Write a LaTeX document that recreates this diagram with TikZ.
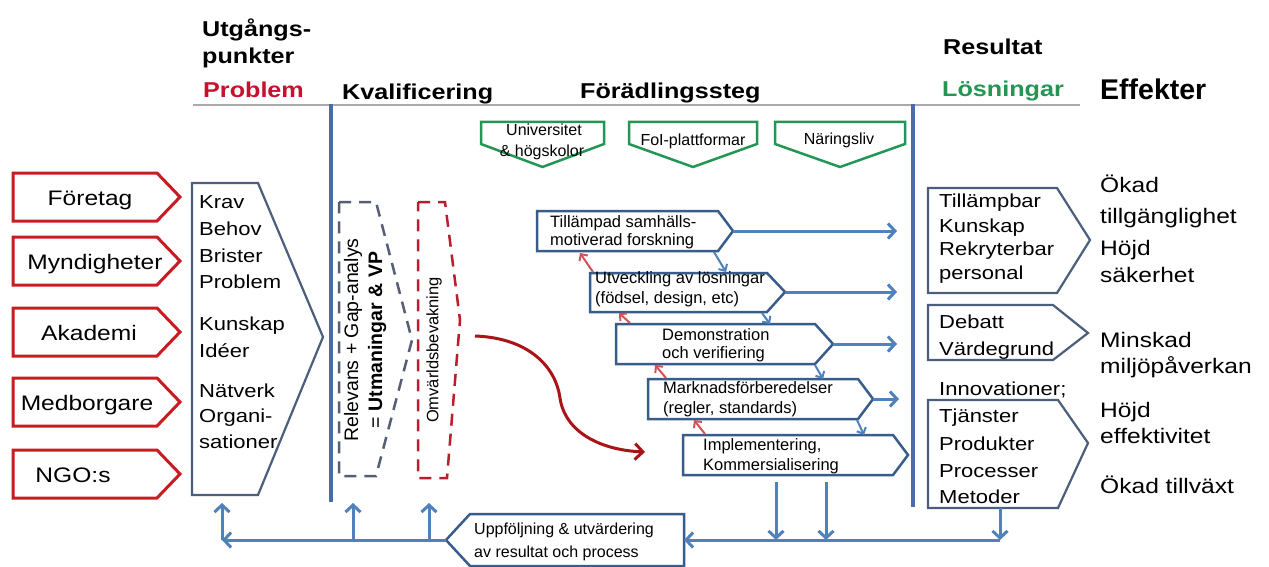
\documentclass[tikz,border=0pt]{standalone}
\usepackage{fontspec}
\setmainfont{Liberation Sans}[FakeStretch=1.17]
\newfontfamily\plainsans{Liberation Sans}
\usetikzlibrary{arrows.meta}
\newcommand\fsz[2]{\fontsize{#1}{#2}\selectfont}

\definecolor{cRed}{RGB}{200,28,34}
\definecolor{cProb}{RGB}{200,16,46}
\definecolor{cGreen}{RGB}{35,150,85}
\definecolor{cDivider}{RGB}{72,110,170}
\definecolor{cArrow}{RGB}{79,129,189}
\definecolor{cOutline}{RGB}{56,93,138}
\definecolor{cSlate}{RGB}{75,95,125}
\definecolor{cRule}{RGB}{170,170,170}
\definecolor{cDashB}{RGB}{85,95,115}
\definecolor{cDashR}{RGB}{185,30,45}
\definecolor{cCurve}{RGB}{170,20,25}
\definecolor{cBack}{RGB}{205,85,85}

\begin{document}
\begin{tikzpicture}[x=1pt,y=-1pt,line join=miter,
  hdr/.style={font=\fsz{21.5}{26}\bfseries, anchor=base west, inner sep=0pt},
  srcbox/.style={draw=cRed, line width=3pt, fill=white},
  srctxt/.style={font=\fsz{21}{25}, anchor=base, inner sep=0pt},
  slatebox/.style={draw=cSlate, line width=2.2pt, fill=white},
  listtxt/.style={font=\fsz{18.8}{22}, anchor=base west, inner sep=0pt},
  efftxt/.style={font=\fsz{21}{25}, anchor=base west, inner sep=0pt},
  greenbox/.style={draw=cGreen, line width=2.5pt, fill=white},
  greentxt/.style={font=\plainsans\fsz{16}{19}, anchor=base, inner sep=0pt},
  stepbox/.style={draw=cOutline, line width=2.5pt, fill=white},
  steptxt/.style={font=\plainsans\fsz{16.5}{19}, anchor=base west, inner sep=0pt},
  rottxt/.style={rotate=90, align=center, inner sep=0pt},
  dashB/.style={draw=cDashB, line width=2.5pt, dash pattern=on 12pt off 8pt},
  dashR/.style={draw=cDashR, line width=2.5pt, dash pattern=on 12pt off 8pt},
  flow/.style={draw=cArrow, line width=3pt, -{Straight Barb[length=7pt,width=15pt]}},
  stepdown/.style={draw=cArrow, line width=2pt, -{Straight Barb[length=5pt,width=10pt]}},
  stepup/.style={draw=cBack, line width=2pt, -{Straight Barb[length=5pt,width=10pt]}},
  curvearrow/.style={draw=cCurve, line width=3pt, -{Straight Barb[length=8pt,width=16pt]}}
]
\useasboundingbox (0,0) rectangle (1269,567);
\fill[white] (0,0) rectangle (1269,567);

% ---- column headings ----
\node[hdr] (hUtg) at (202,37) {Utgångs-};
\node[hdr] (hPunk) at (202,64) {punkter};
\node[hdr, text=cProb] (hProb) at (203,98) {Problem};
\node[hdr] (hKval) at (342,100) {Kvalificering};
\node[hdr] (hForad) at (580,99) {Förädlingssteg};
\node[hdr] (hRes) at (943,55) {Resultat};
\node[hdr, text=cGreen] (hLos) at (942,97) {Lösningar};
\node[hdr, font=\plainsans\fsz{28.5}{32}\bfseries] (hEff) at (1100,100) {Effekter};

% ---- rule and column dividers ----
\draw[cRule, line width=2pt] (193,105) -- (1080,105);
\draw[cDivider, line width=3.5pt] (331,104) -- (331,502);
\draw[cDivider, line width=3.5pt] (913,104) -- (913,507);

% ---- sources ----
\foreach \t/\cx/\txt [count=\i] in {173/90/Företag, 237/95/Myndigheter, 308/89/Akademi, 378/87/Medborgare, 450/73/NGO:s} {
  \draw[srcbox] (13,\t) -- (157,\t) -- (180,\t+24) -- (157,\t+48) -- (13,\t+48) -- cycle;
  \node[srctxt] (src\i) at (\cx,\t+32) {\txt};
}

% ---- problem statement ----
\draw[slatebox] (192,183) -- (258,183) -- (323,337) -- (258,495) -- (192,495) -- cycle;
\foreach \y/\txt [count=\i] in {208/Krav, 235/Behov, 262/Brister, 288/Problem, 330/Kunskap, 357/Idéer, 397/Nätverk, 422/Organi-, 448/sationer} {
  \node[listtxt] (prob\i) at (199,\y) {\txt};
}

% ---- qualification ----
\draw[dashB] (339,202) -- (376,202) -- (412,340) -- (376,476) -- (339,476) -- cycle;
\node[rottxt, font=\plainsans\fsz{19.5}{24}] (kvTxt) at (365,340) {Relevans + Gap-analys\\= \textbf{Utmaningar \& VP}};
\draw[dashR] (418,202) -- (445,202) -- (460,320) -- (447,478) -- (418,478) -- cycle;
\node[rottxt, font=\plainsans\fsz{16.5}{20}] (omTxt) at (434,350) {Omvärldsbevakning};

% ---- actors ----
\foreach \l/\r [count=\i] in {481/604, 629/757, 775/905} {
  \draw[greenbox] (\l,122) -- (\r,122) -- (\r,144) -- ({(\l+\r)/2},167) -- (\l,144) -- cycle;
}
\node[greentxt] (actA1) at (544,136) {Universitet};
\node[greentxt] (actA2) at (542,157) {\& högskolor};
\node[greentxt] (actB) at (693,146) {FoI-plattformar};
\node[greentxt] (actC) at (839,145) {Näringsliv};

% ---- refinement steps ----
\draw[stepbox] (537,211) -- (718,211) -- (733,231) -- (718,251) -- (537,251) -- cycle;
\draw[stepbox] (590,273) -- (767,273) -- (785,292) -- (767,312) -- (590,312) -- cycle;
\draw[stepbox] (616,324) -- (815,324) -- (833,344) -- (815,364) -- (616,364) -- cycle;
\draw[stepbox] (648,379) -- (858,379) -- (873,399) -- (858,419) -- (648,419) -- cycle;
\draw[stepbox] (683,435) -- (893,435) -- (908,455) -- (893,475) -- (683,475) -- cycle;

\node[steptxt] (st1a) at (550,227) {Tillämpad samhälls-};
\node[steptxt] (st1b) at (550,245) {motiverad forskning};
\node[steptxt] (st2a) at (595,283) {Utveckling av lösningar};
\node[steptxt] (st2b) at (595,303) {(födsel, design, etc)};
\node[steptxt] (st3a) at (662,340) {Demonstration};
\node[steptxt] (st3b) at (662,358) {och verifiering};
\node[steptxt] (st4a) at (663,393) {Marknadsförberedelser};
\node[steptxt] (st4b) at (663,413) {(regler, standards)};
\node[steptxt] (st5a) at (703,450) {Implementering,};
\node[steptxt] (st5b) at (703,470) {Kommersialisering};

% step outputs towards results
\coordinate (s1tip) at (733,231);  \coordinate (s1end) at (897,231);
\coordinate (s2tip) at (785,292);  \coordinate (s2end) at (897,292);
\coordinate (s3tip) at (833,344);  \coordinate (s3end) at (897,344);
\coordinate (s4tip) at (873,399);  \coordinate (s4end) at (899,399);
\draw[flow] (s1tip) -- (s1end);
\draw[flow] (s2tip) -- (s2end);
\draw[flow] (s3tip) -- (s3end);
\draw[flow] (s4tip) -- (s4end);

% forward links between steps
\coordinate (d1a) at (714,252); \coordinate (d1b) at (726,272);
\coordinate (d2a) at (762,313); \coordinate (d2b) at (770,324);
\coordinate (d3a) at (815,365); \coordinate (d3b) at (823,379);
\coordinate (d4a) at (857,420); \coordinate (d4b) at (864,435);
\draw[stepdown] (d1a) -- (d1b);
\draw[stepdown] (d2a) -- (d2b);
\draw[stepdown] (d3a) -- (d3b);
\draw[stepdown] (d4a) -- (d4b);

% backward links between steps
\coordinate (u1a) at (593,272); \coordinate (u1b) at (580,253);
\coordinate (u2a) at (630,323); \coordinate (u2b) at (619,313);
\coordinate (u3a) at (666,378); \coordinate (u3b) at (655,365);
\coordinate (u4a) at (705,434); \coordinate (u4b) at (694,420);
\draw[stepup] (u1a) -- (u1b);
\draw[stepup] (u2a) -- (u2b);
\draw[stepup] (u3a) -- (u3b);
\draw[stepup] (u4a) -- (u4b);

% environmental scanning feeding implementation
\coordinate (omOut) at (475,336);
\coordinate (implIn) at (645,452);
\draw[curvearrow] (omOut) .. controls (530,338) and (556,368) .. (560,398) .. controls (565,432) and (600,450) .. (implIn);

% ---- results ----
\draw[slatebox] (928,188) -- (1057,188) -- (1090,240) -- (1057,293) -- (928,293) -- cycle;
\draw[slatebox] (928,305) -- (1053,305) -- (1088,333) -- (1053,360) -- (928,360) -- cycle;
\draw[slatebox] (928,400) -- (1058,400) -- (1088,443) -- (1058,508) -- (928,508) -- cycle;
\foreach \y/\txt [count=\i] in {207/Tillämpbar, 232/Kunskap, 255/Rekryterbar, 279/personal, 328/Debatt, 355/Värdegrund, 395/Innovationer;, 422/Tjänster, 450/Produkter, 477/Processer, 503/Metoder} {
  \node[listtxt] (res\i) at (939,\y) {\txt};
}

% ---- effects ----
\foreach \y/\txt [count=\i] in {193/Ökad, 223/tillgänglighet, 255/Höjd, 282/säkerhet, 347/Minskad, 373/miljöpåverkan, 417/Höjd, 443/effektivitet, 493/Ökad tillväxt} {
  \node[efftxt] (eff\i) at (1100,\y) {\txt};
}

% ---- follow-up loop ----
\draw[stepbox] (446,540) -- (470,514) -- (684,514) -- (684,566) -- (470,566) -- cycle;
\node[steptxt, font=\plainsans\fsz{16}{19}] (fb1) at (474,534) {Uppföljning \& utvärdering};
\node[steptxt, font=\plainsans\fsz{16}{19}] (fb2) at (474,557) {av resultat och process};

\coordinate (fbTip) at (446,540);
\coordinate (fbIn) at (684,540);
\coordinate (jL) at (222,540);   \coordinate (jLup) at (222,503);
\coordinate (jQ) at (353,540);   \coordinate (jQup) at (353,503);
\coordinate (jO) at (429,540);   \coordinate (jOup) at (429,503);
\coordinate (rOut) at (1000,508); \coordinate (rJ) at (1000,540);
\coordinate (i1a) at (776,482);  \coordinate (i1b) at (776,540);
\coordinate (i2a) at (826,482);  \coordinate (i2b) at (826,540);

\draw[flow] (rOut) -- (rJ);
\draw[flow] (rJ) -- (fbIn);
\draw[flow] (i1a) -- (i1b);
\draw[flow] (i2a) -- (i2b);
\draw[flow] (fbTip) -- (jL);
\draw[flow] (jL) -- (jLup);
\draw[flow] (jQ) -- (jQup);
\draw[flow] (jO) -- (jOup);
\end{tikzpicture}
\end{document}
